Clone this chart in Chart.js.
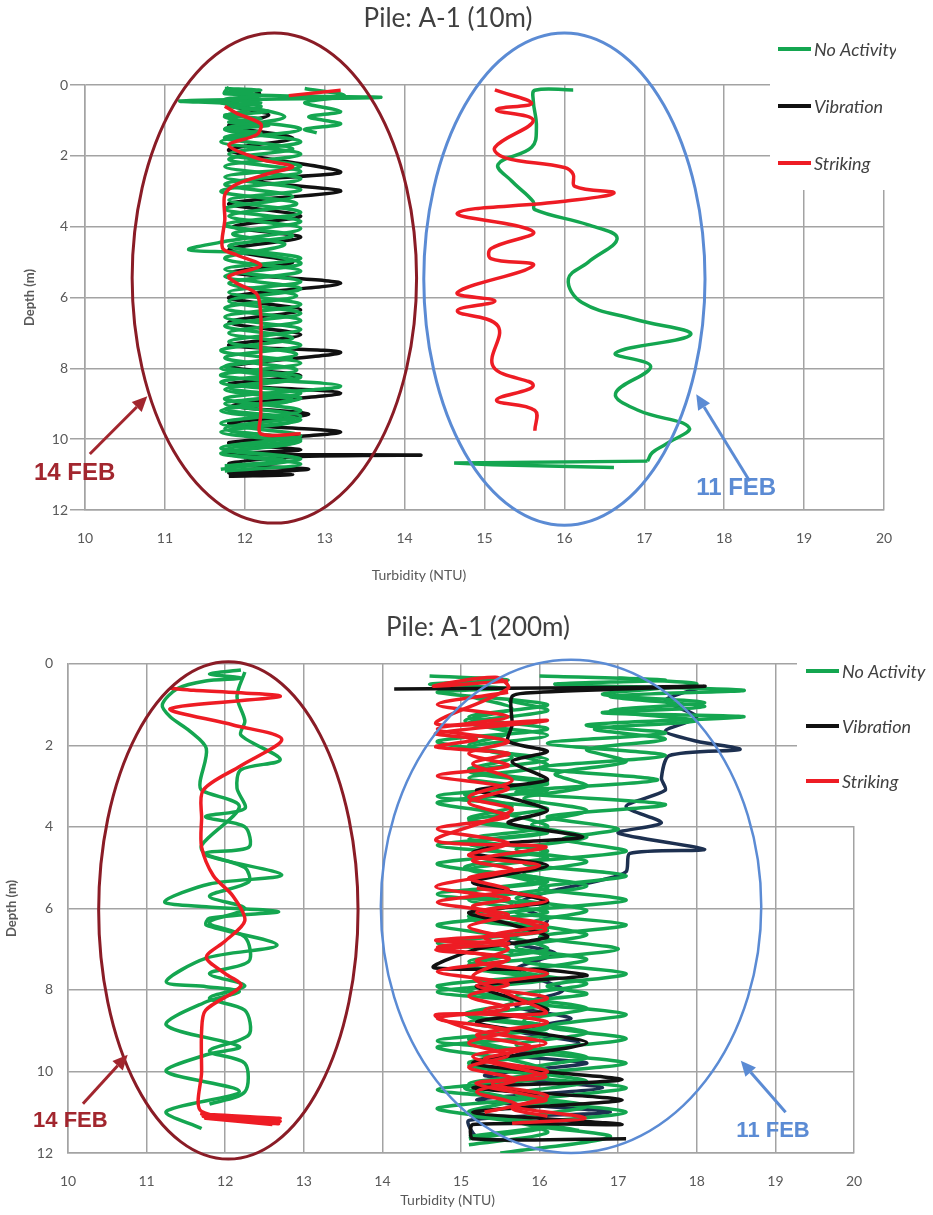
<!DOCTYPE html>
<html>
<head>
<meta charset="utf-8">
<script src="https://cdn.jsdelivr.net/npm/chart.js@4.4.1/dist/chart.umd.min.js"></script>
<style>
  html, body { margin: 0; padding: 0; background: #fff; overflow: hidden; }
  .wrap { position: absolute; left: 0; }
  canvas { display: block; }
</style>
</head>
<body>
<div class="wrap" style="top:0"><canvas id="chartTop" width="896" height="600"></canvas></div>
<div class="wrap" style="top:600px"><canvas id="chartBottom" width="956" height="615"></canvas></div>
<script>
// ---- data: [turbidity (NTU), depth (m)] ----
const legendLabels = ['No Activity', 'Vibration', 'Striking'];

// Pile A-1 (10m), 14 FEB
const top14Green = [[11.8,0.05],[11.75,0.25],[13.7,0.35],[11.2,0.45],[12.2,0.6],[11.75,0.9],[12.7,1.25],[11.7,1.6],[12.7,1.95],[11.75,2.3],[12.7,2.65],[11.7,3.0],[12.65,3.35],[11.8,3.7],[12.7,4.05],[11.8,4.4],[11.3,4.65],[12.1,4.75],[12.7,5.05],[11.75,5.4],[12.7,5.75],[11.8,6.1],[12.7,6.45],[11.75,6.8],[12.6,7.15],[11.7,7.5],[12.7,7.85],[11.7,8.2],[13.2,8.5],[11.75,8.85],[12.7,9.2],[11.7,9.55],[12.7,9.9],[11.7,10.25],[12.65,10.55],[11.7,10.85]];
const top14GreenB = [[12.2,1.3],[11.75,1.5],[12.6,1.8],[11.8,2.1],[12.7,2.45],[11.75,2.8],[12.6,3.15],[11.75,3.5],[12.7,3.85],[11.85,4.2],[12.5,4.5],[11.75,4.9],[12.7,5.25],[11.8,5.6],[12.65,5.95],[11.75,6.3],[12.7,6.65],[11.8,7.0],[12.7,7.35],[11.75,7.7],[12.65,8.05],[11.7,8.4],[12.7,8.7],[11.75,9.0],[12.7,9.35],[11.75,9.7],[12.7,10.05],[11.75,10.4],[12.7,10.7],[11.75,10.9]];
const top14GreenC = [[12.6,7.7],[11.7,8.0],[12.6,8.3],[11.75,8.6],[12.6,8.9],[11.7,9.2],[12.6,9.5],[11.7,9.8],[12.6,10.1],[11.7,10.4],[12.5,10.6],[11.75,10.8]];
const top14GreenD = [[11.7,0.5],[12.5,0.9],[11.75,1.25],[12.7,1.6],[11.8,1.95],[12.7,2.3],[11.75,2.6],[12.7,2.95],[11.8,3.25],[12.7,3.6],[11.75,3.95],[12.6,4.25],[11.8,4.55],[12.7,4.9],[11.75,5.2],[12.7,5.55],[11.8,5.85],[12.7,6.2],[11.75,6.55],[12.7,6.9],[11.8,7.25],[12.65,7.6],[11.75,7.95],[12.7,8.25],[11.8,8.55],[12.7,8.85],[11.75,9.15],[12.7,9.45],[11.8,9.75],[12.7,10.0],[11.75,10.3],[12.7,10.55],[11.75,10.75]];
const top14GreenTop = [[11.75,0.1],[12.2,0.15],[11.75,0.2],[12.2,0.3],[11.75,0.4],[12.2,0.5],[11.8,0.6],[12.3,0.75],[11.75,0.85],[12.2,0.95],[11.8,1.05],[12.3,1.15],[11.75,1.25],[12.2,1.35],[11.8,1.45]];
const top14GreenRight = [[12.75,0.1],[13.25,0.3],[12.75,0.5],[13.2,0.75],[12.8,0.9],[13.2,1.1],[12.75,1.25],[12.9,1.35]];
const top14Black = [[12.2,0.2],[11.8,0.55],[12.3,0.85],[11.8,1.15],[12.6,1.5],[11.8,1.85],[13.2,2.45],[12.1,2.7],[13.2,3.0],[11.8,3.35],[12.7,3.7],[11.85,4.0],[12.7,4.3],[11.8,4.65],[12.6,5.0],[11.85,5.3],[13.2,5.6],[11.8,6.0],[12.7,6.35],[11.8,6.7],[12.7,7.05],[11.8,7.35],[13.2,7.55],[11.8,7.95],[12.7,8.2],[11.8,8.45],[13.2,8.7],[11.85,9.05],[12.8,9.3],[11.8,9.55],[13.2,9.8],[11.8,10.1],[12.7,10.3],[11.8,10.42],[14.2,10.45],[12.6,10.5],[11.8,10.7],[12.8,10.85],[11.8,10.95],[12.6,11.0],[11.8,11.05]];
const top14Red = [[11.75,0.6],[11.9,0.8],[12.2,1.1],[12.15,1.4],[11.8,1.7],[12.2,2.1],[12.6,2.3],[12.3,2.5],[11.9,2.8],[11.75,3.1],[11.75,3.8],[11.72,4.6],[11.9,4.8],[12.2,5.1],[11.8,5.4],[11.9,5.6],[12.15,5.9],[12.2,6.5],[12.2,7.5],[12.2,8.5],[12.2,9.3],[12.2,9.85],[12.7,9.85]];
const top14RedTop = [[12.55,0.3],[13.2,0.15]];

// Pile A-1 (10m), 11 FEB
const top11Red = [[15.13,0.14],[15.59,0.52],[15.15,0.7],[15.61,1.0],[15.13,1.76],[15.25,2.05],[16.0,2.33],[16.11,2.52],[16.13,2.86],[16.62,3.05],[15.97,3.29],[14.66,3.62],[15.61,4.14],[15.08,4.62],[15.08,4.9],[15.61,5.1],[14.66,5.86],[15.13,6.1],[14.66,6.38],[15.17,6.81],[15.11,7.95],[15.61,8.48],[15.15,8.9],[15.63,9.19],[15.63,9.76]];
const top11Green = [[16.11,0.14],[15.63,0.15],[15.61,0.43],[15.65,1.19],[15.59,1.76],[15.17,2.24],[15.34,2.71],[15.61,3.29],[15.63,3.52],[16.3,3.95],[16.66,4.33],[16.3,5.0],[16.05,5.48],[16.22,6.14],[16.89,6.62],[17.58,7.05],[16.64,7.57],[17.08,7.95],[16.64,8.71],[16.93,9.19],[17.56,9.67],[17.27,10.14],[17.1,10.38],[17.04,10.62]];
const top11GreenTail = [[17.04,10.62],[14.62,10.67],[15.1,10.72],[16.62,10.8]];

// Pile A-1 (200m), 14 FEB
const bot14Green = [[12.2,0.15],[11.8,0.25],[12.2,0.35],[11.75,0.42],[11.4,0.6],[11.2,1.0],[11.3,1.3],[11.55,1.65],[11.76,2.08],[11.68,2.9],[11.7,3.1],[12.18,3.5],[11.7,4.45],[11.76,4.7],[12.72,5.18],[11.8,5.4],[11.23,5.84],[11.76,5.96],[12.68,6.08],[11.8,6.24],[11.76,6.41],[12.66,6.9],[11.76,7.22],[11.25,7.8],[11.76,7.92],[12.18,8.04],[11.76,8.29],[11.25,8.86],[12.18,9.39],[11.76,9.59],[11.25,10.0],[12.18,10.49],[11.25,10.98],[11.7,11.4]];
const bot14GreenB = [[12.25,0.2],[12.15,0.8],[12.25,1.4],[12.2,1.75],[12.7,2.35],[12.2,2.6],[12.15,3.05],[12.25,3.55],[11.75,3.75],[12.25,4.0],[12.3,4.5],[11.75,4.65],[12.25,5.0],[12.3,5.35],[11.8,5.7],[12.25,6.0],[11.8,6.35],[12.25,6.7],[12.3,7.3],[11.8,7.6],[12.25,7.9],[11.8,8.2],[12.25,8.5],[12.3,9.1],[11.8,9.5],[12.25,9.8],[12.25,10.5],[11.8,10.8]];
const bot14Red = [[11.3,0.6],[11.6,0.65],[12.7,0.8],[11.3,1.1],[12.1,1.5],[12.72,1.85],[12.2,2.5],[11.72,3.1],[11.7,3.8],[11.7,4.5],[11.85,5.2],[12.1,5.7],[12.25,6.3],[12.0,6.8],[11.76,7.2],[12.0,7.6],[12.2,7.9],[11.75,8.5],[11.7,9.0],[11.7,10.0],[11.7,10.98],[12.7,11.15],[11.7,11.05],[12.7,11.22],[11.72,11.1],[12.68,11.28],[11.75,11.15],[12.6,11.3]];

// Pile A-1 (200m), 11 FEB
const bot11Red = [[15.6,0.42],[14.65,0.55],[15.44,0.33],[15.6,0.6],[14.68,1.47],[16.1,1.39],[14.68,1.71],[15.2,1.85],[14.68,2.04],[15.61,2.2],[15.15,2.45],[15.65,2.86],[15.1,3.27],[15.65,3.59],[14.68,4.33],[16.08,4.49],[15.15,4.82],[15.65,5.06],[14.68,5.47],[15.61,5.76],[15.15,5.96],[16.08,6.53],[14.68,6.78],[15.61,6.86],[14.68,7.02],[15.61,7.22],[15.15,7.67],[15.6,8.1],[16.08,8.57],[14.68,8.61],[15.15,8.98],[16.08,9.31],[15.15,9.63],[16.08,10.12],[15.19,10.29],[16.08,10.69],[15.65,10.86],[16.58,11.14],[15.65,11.27]];
const bot11RedB = [[15.2,5.5],[16.1,5.8],[15.2,6.1],[16.1,6.4],[15.3,6.7],[15.6,7.0],[15.2,7.3],[16.1,7.6],[15.2,7.9],[16.1,8.2],[15.3,8.5],[16.1,8.8],[15.2,9.1],[15.9,9.4],[15.3,9.7],[16.1,10.0],[15.4,10.3],[16.1,10.6],[15.65,10.9],[16.1,11.1]];
const bot11RedC = [[15.6,0.7],[14.7,1.0],[15.6,1.3],[14.7,1.6],[15.6,1.9],[15.1,2.2],[15.6,2.5],[14.7,2.75],[15.6,3.05],[15.1,3.4],[15.6,3.75],[14.7,4.05],[15.6,4.4],[15.1,4.7],[16.0,4.95],[15.1,5.25],[15.6,5.55],[14.7,5.85],[15.6,6.15],[15.1,6.45],[15.6,6.75],[14.7,6.95],[15.6,7.25],[14.7,7.55],[15.6,7.85],[15.1,8.15],[15.6,8.45],[14.7,8.7],[15.6,9.0],[15.1,9.3],[15.6,9.6],[15.1,9.9],[15.7,10.2],[15.2,10.5],[15.7,10.8],[15.3,11.0]];
const bot11Black = [[14.15,0.62],[17.0,0.58],[18.1,0.55],[16.0,0.7],[15.65,0.8],[15.65,1.5],[15.6,1.9],[16.1,2.15],[15.65,2.4],[16.1,2.85],[15.2,3.1],[15.65,3.3],[16.1,3.6],[15.6,3.9],[16.55,4.25],[15.6,4.4],[15.15,4.65],[16.1,4.95],[15.15,5.35],[15.65,5.6],[16.1,5.85],[15.1,6.1],[15.65,6.4],[16.1,6.7],[15.2,7.0],[14.65,7.45],[16.0,7.5],[16.6,7.65],[15.2,7.9],[15.65,8.2],[16.1,8.5],[15.2,8.8],[16.6,9.3],[15.15,9.8],[17.05,10.2],[15.15,10.4],[17.05,10.7],[15.15,11.0],[17.05,11.3],[15.15,11.3],[15.15,11.65],[17.1,11.65]];
const bot11Navy = [[18.1,0.55],[17.6,0.9],[18.0,1.3],[17.6,1.65],[18.0,1.9],[18.55,2.1],[17.65,2.25],[17.55,2.8],[17.6,3.1],[17.1,3.5],[17.55,3.9],[17.0,4.15],[18.1,4.55],[17.15,4.65],[17.1,5.1],[16.8,5.3],[16.1,5.6],[15.7,5.9],[16.1,6.3],[15.6,6.8],[16.2,7.1],[15.7,7.5],[16.3,8.0],[15.7,8.4],[16.4,8.7],[15.7,9.0],[16.5,9.3],[15.7,9.6],[16.6,9.8],[15.3,10.1],[16.8,10.4],[15.2,10.7],[16.9,11.0],[15.1,11.2],[15.2,11.6],[15.65,11.7]];
const bot11GreenLeft = [[14.6,0.3],[15.6,0.4],[14.6,0.5],[15.6,0.6],[14.7,0.7],[16.1,1.0],[15.1,1.3],[16.1,1.6],[14.7,1.9],[15.6,2.2],[16.1,2.5],[15.1,2.8],[16.1,3.1],[14.7,3.4],[15.6,3.7],[16.1,4.0],[15.1,4.3],[16.1,4.6],[14.7,4.9],[15.6,5.2],[16.1,5.5],[15.1,5.8],[16.1,6.1],[14.7,6.4],[15.6,6.7],[16.1,7.0],[15.1,7.3],[16.1,7.6],[14.7,7.9],[15.6,8.2],[16.1,8.5],[15.1,8.8],[16.1,9.1],[14.7,9.4],[15.6,9.7],[16.1,10.0],[15.1,10.3],[16.1,10.6],[14.7,10.9],[15.6,11.2],[16.1,11.5],[15.1,11.8]];
const bot11GreenBand = [[15.1,0.8],[15.65,1.1],[15.05,1.4],[15.6,1.7],[15.1,2.0],[15.65,2.3],[15.1,2.6],[16.1,2.9],[15.05,3.2],[15.65,3.5],[15.1,3.8],[16.1,4.1],[15.1,4.4],[15.65,4.7],[15.05,5.0],[16.1,5.3],[15.1,5.6],[15.65,5.9],[15.1,6.2],[16.1,6.5],[15.05,6.8],[15.65,7.1],[15.1,7.4],[16.1,7.7],[15.1,8.0],[15.65,8.3],[15.05,8.6],[16.1,8.9],[15.1,9.2],[15.65,9.5],[15.1,9.8],[16.1,10.1],[15.05,10.4],[15.65,10.7],[15.1,11.0],[16.1,11.3],[15.1,11.6]];
const bot11GreenMid = [[15.6,0.9],[16.1,1.15],[15.1,1.45],[16.1,1.75],[15.1,2.05],[16.1,2.35],[15.1,2.65],[16.1,2.95],[14.7,3.25],[16.1,3.55],[15.1,3.85],[16.1,4.15],[14.7,4.45],[16.1,4.75],[15.1,5.05],[16.1,5.35],[14.7,5.65],[16.1,5.95],[15.1,6.25],[16.1,6.55],[14.7,6.85],[16.1,7.15],[15.1,7.45],[16.1,7.75],[14.7,8.05],[16.1,8.35],[15.1,8.65],[16.1,8.95],[14.7,9.25],[16.1,9.55],[15.1,9.85],[16.1,10.15],[14.7,10.45],[16.1,10.75],[15.1,11.05],[16.1,11.35],[15.1,11.65]];
const bot11GreenRight = [[16.0,0.3],[17.6,0.4],[16.2,0.5],[18.6,0.65],[16.9,0.8],[18.1,1.05],[16.8,1.2],[18.6,1.3],[16.6,1.5],[17.6,1.7],[16.1,1.95],[17.6,2.25],[16.0,2.55],[17.5,2.85],[15.7,3.15],[17.6,3.45],[16.1,3.75],[17.0,4.05],[16.3,4.3],[17.1,4.6],[15.8,4.9],[17.1,5.2],[16.0,5.5],[17.1,5.8],[15.7,6.1],[17.1,6.4],[16.0,6.7],[17.0,7.0],[15.8,7.3],[17.1,7.6],[16.1,7.9],[16.6,8.1],[15.8,8.3],[17.1,8.6],[16.1,8.9],[17.1,9.2],[15.9,9.5],[17.1,9.8],[15.8,10.1],[17.1,10.4],[16.0,10.7],[17.1,11.0],[15.9,11.3],[16.9,11.6],[15.5,12.0]];
const bot11GreenFar = [[17.0,0.35],[18.0,0.5],[16.8,0.75],[18.1,0.95],[16.9,1.15],[18.0,1.4],[16.7,1.6],[17.6,1.85],[16.6,2.1],[17.1,2.4],[16.2,2.7],[16.6,3.0],[15.8,3.3],[16.6,3.6],[15.9,3.95],[16.6,4.25],[15.7,4.55],[16.6,4.85],[15.8,5.15],[16.6,5.45],[15.7,5.75],[16.6,6.05],[15.9,6.35],[16.6,6.65],[15.7,6.95],[16.6,7.25],[15.8,7.55],[16.6,7.85],[15.7,8.15],[16.6,8.45],[15.8,8.75],[16.6,9.05],[15.7,9.35],[16.6,9.65],[15.8,9.95],[16.6,10.25],[15.7,10.55],[16.6,10.85],[15.8,11.15],[16.5,11.45]];

// ---- style ----
const FONT = 'Lato, "Open Sans", sans-serif';
const GREEN = '#14a650';
const BLACK = '#111111';
const NAVY = '#1d3050';
const RED = '#ee1c24';
const MAROON = '#8a1c26';
const MAROON_TEXT = '#a2262e';
const BLUE = '#5b8bd4';
const GRID = '#a3a3a3';
const TEXT = '#595959';
const legendColors = [GREEN, BLACK, RED];

function line(points, color, tension) {
    return {
        data: points.map(p => ({ x: p[0], y: p[1] })),
        borderColor: color,
        borderWidth: 3.5,
        pointRadius: 0,
        showLine: true,
        fill: false,
        tension: tension,
        xAxisID: 'x',
        yAxisID: 'y'
    };
}

// ellipses, arrows, date labels, x-axis title and the in-plot legend
const notes = {
    id: 'notes',
    beforeDatasetsDraw(chart, args, opts) {
        const ctx = chart.ctx;
        ctx.save();
        ctx.fillStyle = '#fff';
        ctx.fillRect(opts.box.x, 0, chart.width - opts.box.x, opts.box.bottom);
        ctx.font = 'italic 18px ' + FONT;
        ctx.textBaseline = 'middle';
        legendLabels.forEach((label, i) => {
            const y = opts.legend.ys[i];
            ctx.strokeStyle = legendColors[i];
            ctx.lineWidth = 4;
            ctx.beginPath();
            ctx.moveTo(opts.legend.lineX, y);
            ctx.lineTo(opts.legend.lineX + opts.legend.lineLen, y);
            ctx.stroke();
            ctx.fillStyle = '#404040';
            ctx.fillText(label, opts.legend.textX, y + 1);
        });
        // x-axis title sits left of the plot centre in the original
        const t = opts.axisTitle;
        ctx.font = '14px ' + FONT;
        ctx.fillStyle = TEXT;
        ctx.textAlign = 'center';
        ctx.fillText(t.text, chart.scales.x.getPixelForValue(t.x), t.py);
        ctx.restore();
    },
    afterDatasetsDraw(chart, args, opts) {
        const { ctx, scales: { x, y } } = chart;
        ctx.save();
        opts.ellipses.forEach(e => {
            const cx = x.getPixelForValue(e.x);
            const cy = y.getPixelForValue(e.y);
            const rx = Math.abs(x.getPixelForValue(e.x + e.rx) - cx);
            const ry = Math.abs(y.getPixelForValue(e.y + e.ry) - cy);
            ctx.beginPath();
            ctx.ellipse(cx, cy, rx, ry, 0, 0, Math.PI * 2);
            ctx.strokeStyle = e.color;
            ctx.lineWidth = e.width;
            ctx.stroke();
        });
        opts.arrows.forEach(a => {
            const x1 = x.getPixelForValue(a.from[0]), y1 = y.getPixelForValue(a.from[1]);
            const x2 = x.getPixelForValue(a.to[0]), y2 = y.getPixelForValue(a.to[1]);
            const ang = Math.atan2(y2 - y1, x2 - x1);
            const hl = 15, hw = 7;
            const bx = x2 - hl * Math.cos(ang), by = y2 - hl * Math.sin(ang);
            ctx.strokeStyle = a.color;
            ctx.fillStyle = a.color;
            ctx.lineWidth = 3;
            ctx.beginPath();
            ctx.moveTo(x1, y1);
            ctx.lineTo(bx, by);
            ctx.stroke();
            ctx.beginPath();
            ctx.moveTo(x2, y2);
            ctx.lineTo(bx + hw * Math.sin(ang), by - hw * Math.cos(ang));
            ctx.lineTo(bx - hw * Math.sin(ang), by + hw * Math.cos(ang));
            ctx.closePath();
            ctx.fill();
        });
        ctx.textAlign = 'center';
        ctx.textBaseline = 'middle';
        opts.labels.forEach(l => {
            ctx.font = 'bold ' + l.size + 'px "Liberation Sans", Arial, sans-serif';
            ctx.fillStyle = l.color;
            ctx.fillText(l.text, x.getPixelForValue(l.at[0]), y.getPixelForValue(l.at[1]));
        });
        ctx.restore();
    }
};

function makeOptions(g) {
    return {
        responsive: false,
        animation: false,
        events: [],
        layout: { padding: 0 },
        scales: {
            x: {
                type: 'linear', position: 'bottom', min: 10, max: 20,
                ticks: { stepSize: 1, color: TEXT, font: { family: FONT, size: 14 }, padding: g.xTickPad },
                grid: { color: GRID, lineWidth: 1.5, drawTicks: false },
                border: { color: GRID, width: 1.5 },
                title: { display: false, text: 'Turbidity (NTU)' },
                afterFit(s) { s.height = g.xHeight; s.paddingLeft = 0; s.paddingRight = 0; }
            },
            y: {
                type: 'linear', position: 'left', reverse: true, min: 0, max: 12,
                ticks: { stepSize: 2, color: TEXT, font: { family: FONT, size: 14 }, padding: g.yTickPad },
                grid: { color: GRID, lineWidth: 1.5, drawTicks: g.yTickLen > 0, tickLength: g.yTickLen },
                border: { color: GRID, width: 1.5 },
                title: { display: true, text: 'Depth (m)', color: TEXT, font: { family: FONT, size: 13, weight: 'bold' }, padding: { top: g.yTitlePad, bottom: 0 } },
                afterFit(s) { s.width = g.yWidth; s.paddingTop = 0; s.paddingBottom = 0; }
            },
            pad: {
                type: 'linear', position: 'right', display: true,
                grid: { display: false }, ticks: { display: false }, border: { display: false },
                afterFit(s) { s.width = g.rightPad; }
            }
        },
        plugins: {
            legend: { display: false },
            tooltip: { enabled: false },
            title: {
                display: true, text: g.title, color: '#404040',
                font: { family: FONT, size: 26, weight: 'normal' },
                padding: { top: g.titleTop, bottom: g.titleBottom }
            },
            notes: g.notes
        }
    };
}

new Chart(document.getElementById('chartTop'), {
    type: 'scatter',
    data: {
        datasets: [
            line(top14Red, RED, 0.3),
            line(top14RedTop, RED, 0),
            line(top11Red, RED, 0.4),
            line(top14GreenTop, GREEN, 0.3),
            line(top14Green, GREEN, 0.35),
            line(top14GreenB, GREEN, 0.35),
            line(top14GreenC, GREEN, 0.35),
            line(top14GreenD, GREEN, 0.35),
            line(top14GreenRight, GREEN, 0.3),
            line(top11Green, GREEN, 0.4),
            line(top11GreenTail, GREEN, 0),
            line(top14Black, BLACK, 0.3)
        ]
    },
    options: makeOptions({
        title: 'Pile: A-1 (10m)', titleTop: 3, titleBottom: 50.8,
        xHeight: 90, xTickPad: 20,
        yWidth: 85, yTickLen: 15, yTickPad: 2, yTitlePad: 22,
        rightPad: 12,
        notes: {
            box: { x: 770, bottom: 190 },
            legend: { lineX: 778, lineLen: 33, textX: 814, ys: [49, 106, 163] },
            axisTitle: { text: 'Turbidity (NTU)', x: 14.18, py: 575 },
            ellipses: [
                { x: 12.37, y: 5.45, rx: 1.78, ry: 6.92, color: MAROON, width: 3 },
                { x: 16.0, y: 5.48, rx: 1.76, ry: 6.95, color: BLUE, width: 3 }
            ],
            arrows: [
                { from: [10.06, 10.42], to: [10.78, 8.79], color: MAROON_TEXT },
                { from: [18.32, 11.19], to: [17.65, 8.73], color: BLUE }
            ],
            labels: [
                { text: '14 FEB', at: [9.87, 10.96], color: MAROON_TEXT, size: 24 },
                { text: '11 FEB', at: [18.15, 11.38], color: BLUE, size: 24 }
            ]
        }
    }),
    plugins: [notes]
});

new Chart(document.getElementById('chartBottom'), {
    type: 'scatter',
    data: {
        datasets: [
            line(bot14Red, RED, 0.3),
            line(bot11Red, RED, 0.3),
            line(bot11RedB, RED, 0.3),
            line(bot11RedC, RED, 0.3),
            line(bot14Green, GREEN, 0.3),
            line(bot14GreenB, GREEN, 0.3),
            line(bot11Black, BLACK, 0.25),
            line(bot11GreenLeft, GREEN, 0.3),
            line(bot11GreenBand, GREEN, 0.3),
            line(bot11GreenMid, GREEN, 0.3),
            line(bot11GreenRight, GREEN, 0.3),
            line(bot11GreenFar, GREEN, 0.3),
            line(bot11Navy, NAVY, 0.25)
        ]
    },
    options: makeOptions({
        title: 'Pile: A-1 (200m)', titleTop: 12, titleBottom: 20.6,
        xHeight: 62, xTickPad: 20,
        yWidth: 68, yTickLen: 0, yTickPad: 15, yTitlePad: 4,
        rightPad: 102,
        notes: {
            box: { x: 797, bottom: 226 },
            legend: { lineX: 806, lineLen: 33, textX: 842, ys: [71, 126, 181] },
            axisTitle: { text: 'Turbidity (NTU)', x: 14.83, py: 600 },
            ellipses: [
                { x: 12.04, y: 6.05, rx: 1.65, ry: 6.1, color: MAROON, width: 3 },
                { x: 16.4, y: 5.95, rx: 2.42, ry: 6.05, color: BLUE, width: 2.5 }
            ],
            arrows: [
                { from: [10.19, 10.79], to: [10.76, 9.59], color: MAROON_TEXT },
                { from: [19.13, 11.0], to: [18.56, 9.74], color: BLUE }
            ],
            labels: [
                { text: '14 FEB', at: [10.03, 11.21], color: MAROON_TEXT, size: 22 },
                { text: '11 FEB', at: [18.97, 11.47], color: BLUE, size: 22 }
            ]
        }
    }),
    plugins: [notes]
});
</script>
</body>
</html>
